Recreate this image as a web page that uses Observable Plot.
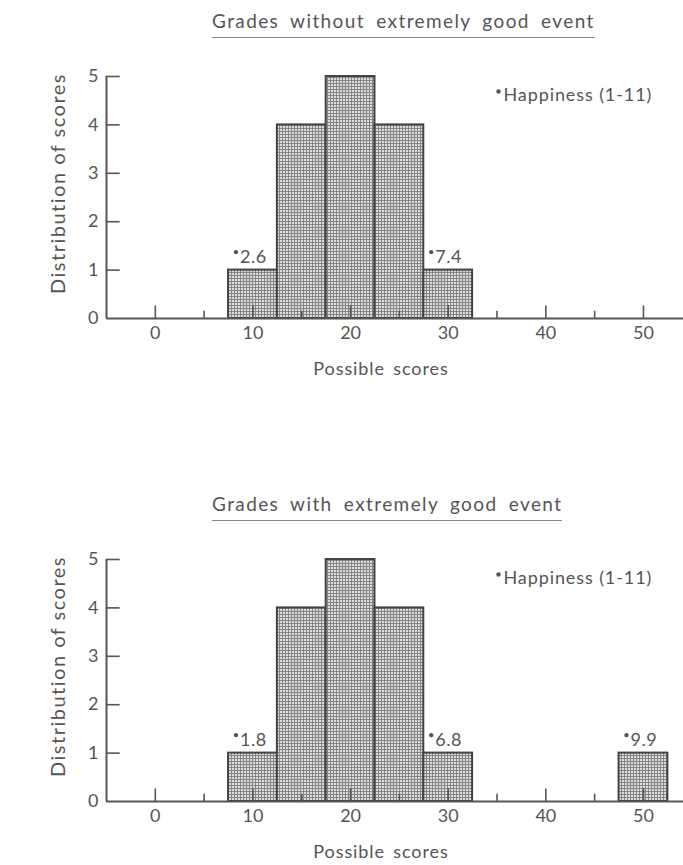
<!DOCTYPE html>
<html>
<head>
<meta charset="utf-8">
<script src="https://cdn.jsdelivr.net/npm/d3@7"></script>
<script src="https://cdn.jsdelivr.net/npm/@observablehq/plot@0.6"></script>
<style>
  html, body { margin: 0; padding: 0; background: #fff; }
  #page { position: relative; width: 683px; height: 865px; background: #fff; overflow: hidden; font-family: Lato, "DejaVu Sans", sans-serif; color: #555; }
  .title { position: absolute; left: 212px; font-size: 19px; letter-spacing: 1.4px; word-spacing: 5px; color: #555; border-bottom: 1.5px solid #888; padding-bottom: 5px; line-height: 22px; white-space: nowrap; }
  .chart { position: absolute; left: 0; }
  .ls-y { letter-spacing: 1.5px; }
  .ls-x { letter-spacing: 0.9px; word-spacing: 3px; }
  .ls-legend { letter-spacing: 0.9px; }
  .ls-notes { letter-spacing: 0.6px; }
</style>
</head>
<body>
<div id="page">
  <div class="title" id="t1" style="top:10px">Grades without extremely good event</div>
  <div class="chart" id="c1" style="top:50px"></div>
  <div class="title" id="t2" style="top:493px">Grades with extremely good event</div>
  <div class="chart" id="c2" style="top:533px"></div>
</div>
<script>
// ---- data ----
const scoreTicks = [0, 10, 20, 30, 40, 50];
const minorScoreTicks = [5, 15, 25, 35, 45];
const countTicks = [0, 1, 2, 3, 4, 5];
const binWidth = 5;

const binsWithout = [10, 15, 20, 25, 30];
const countsWithout = [1, 4, 5, 4, 1];
const noteBinsWithout = [10, 30];
const noteValuesWithout = ["2.6", "7.4"];

const binsWith = [10, 15, 20, 25, 30, 50];
const countsWith = [1, 4, 5, 4, 1, 1];
const noteBinsWith = [10, 30, 50];
const noteValuesWith = ["1.8", "6.8", "9.9"];

const legendText = "Happiness (1-11)";
const xLabel = "Possible scores";
const yLabel = "Distribution of scores";

const ink = "#555";

function withClass(mark, cls) {
  const render = mark.render;
  mark.render = function (...args) {
    const g = render.apply(this, args);
    if (g) g.querySelectorAll("text").forEach(t => t.classList.add(cls));
    return g;
  };
  return mark;
}

function makeChart(bins, counts, noteBins, noteValues, patternId, height, marginBottom) {
  const bars = bins.map((c, i) => ({x1: c - binWidth / 2, x2: c + binWidth / 2, count: counts[i]}));
  const notes = noteBins.map((b, i) => ({x: b, y: counts[bins.indexOf(b)], label: noteValues[i]}));
  const svg = Plot.plot({
    width: 683,
    height,
    marginLeft: 106,
    marginRight: 0,
    marginTop: 26,
    marginBottom,
    x: {domain: [-5, 54.1], axis: null},
    y: {domain: [0, 5], axis: null},
    style: {fontFamily: "Lato, 'DejaVu Sans', sans-serif", fontSize: "18px", color: ink, background: "white", overflow: "visible"},
    marks: [
      Plot.rectY(bars, {x1: "x1", x2: "x2", y1: 0, y2: "count", fill: `url(#${patternId})`, stroke: "#444", strokeWidth: 2}),
      // axis lines
      Plot.ruleY([0], {stroke: ink, strokeWidth: 2}),
      Plot.ruleX([-5], {y1: 0, y2: 5, stroke: ink, strokeWidth: 2}),
      // inward ticks
      Plot.ruleX(scoreTicks, {x: d => d, y1: 0, y2: 0.26, stroke: ink, strokeWidth: 1.6}),
      Plot.ruleX(minorScoreTicks, {x: d => d, y1: 0, y2: 0.15, stroke: ink, strokeWidth: 1.6}),
      Plot.ruleY(countTicks.slice(1), {y: d => d, x1: -5, x2: -3.6, stroke: ink, strokeWidth: 1.6}),
      // tick labels
      Plot.axisX({ticks: scoreTicks, tickSize: 0, tickPadding: 8, label: null, fontSize: 18, tickFormat: d => String(d)}),
      Plot.axisY({ticks: countTicks, tickSize: 0, tickPadding: 8, label: null, fontSize: 18, tickFormat: d => String(d)}),
      // axis titles
      withClass(Plot.text([xLabel], {frameAnchor: "bottom", dx: -14, dy: 56, fontSize: 18, fill: ink}), "ls-x"),
      withClass(Plot.text([yLabel], {frameAnchor: "left", textAnchor: "middle", rotate: -90, dx: -48, dy: -14, fontSize: 20, fill: ink}), "ls-y"),
      // annotations
      withClass(Plot.text(notes, {x: "x", y: "y", text: "label", textAnchor: "start", dx: -13, dy: -13, fontSize: 18, fill: ink}), "ls-notes"),
      Plot.dot(notes, {x: "x", y: "y", r: 2.2, fill: ink, stroke: null, dx: -17, dy: -18}),
      // legend
      withClass(Plot.text([legendText], {frameAnchor: "top-right", textAnchor: "start", dx: -180, dy: 12, fontSize: 18, fill: ink}), "ls-legend"),
      Plot.dot([0], {frameAnchor: "top-right", r: 2.2, fill: ink, stroke: null, dx: -185, dy: 15})
    ]
  });
  const ns = "http://www.w3.org/2000/svg";
  const defs = document.createElementNS(ns, "defs");
  defs.innerHTML = `<pattern id="${patternId}" width="3" height="3" patternUnits="userSpaceOnUse">
      <rect width="3" height="3" fill="#dcdcdc"></rect>
      <path d="M0 0.5H3M0.5 0V3" stroke="#858585" stroke-width="1"></path>
    </pattern>`;
  svg.insertBefore(defs, svg.firstChild);
  return svg;
}

document.getElementById("c1").appendChild(makeChart(binsWithout, countsWithout, noteBinsWithout, noteValuesWithout, "gridA", 330, 62));
document.getElementById("c2").appendChild(makeChart(binsWith, countsWith, noteBinsWith, noteValuesWith, "gridB", 332, 64));
</script>
</body>
</html>
